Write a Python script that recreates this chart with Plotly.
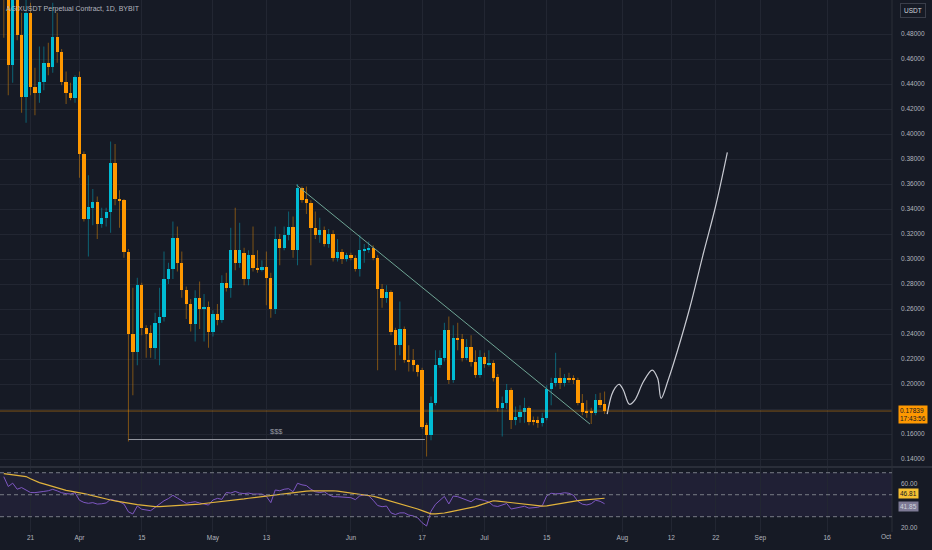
"""
plot.py - AGIXUSDT perpetual daily chart (Bybit) with RSI pane, rebuilt in plotly.
"""
import pandas as pd
import plotly.graph_objects as go

# ---- data (daily candles 2023-03-15 .. 2023-07-28) ----
first_day = "2023-03-15"
opens = [
    0.530, 0.520, 0.455, 0.515, 0.479, 0.430, 0.497, 0.438, 0.433, 0.442,
    0.457, 0.454, 0.478, 0.466, 0.442, 0.433, 0.429, 0.446, 0.384, 0.332,
    0.341, 0.346, 0.328, 0.333, 0.338, 0.377, 0.348, 0.347, 0.306, 0.240,
    0.226, 0.279, 0.245, 0.241, 0.229, 0.249, 0.254, 0.284, 0.292, 0.317,
    0.297, 0.275, 0.264, 0.248, 0.269, 0.260, 0.262, 0.242, 0.256, 0.251,
    0.281, 0.277, 0.307, 0.297, 0.305, 0.284, 0.303, 0.293, 0.291, 0.294,
    0.285, 0.260, 0.316, 0.309, 0.319, 0.326, 0.307, 0.357, 0.348, 0.345,
    0.325, 0.319, 0.323, 0.312, 0.320, 0.301, 0.306, 0.300, 0.303, 0.301,
    0.292, 0.307, 0.307, 0.309, 0.301, 0.276, 0.269, 0.274, 0.243, 0.231,
    0.244, 0.219, 0.219, 0.215, 0.211, 0.167, 0.159, 0.185, 0.215, 0.221,
    0.243, 0.203, 0.237, 0.236, 0.221, 0.230, 0.218, 0.207, 0.222, 0.216,
    0.217, 0.206, 0.181, 0.185, 0.195, 0.171, 0.174, 0.178, 0.181, 0.171,
    0.171, 0.169, 0.173, 0.196, 0.201, 0.205, 0.201, 0.205, 0.205, 0.203,
    0.185, 0.178, 0.1784, 0.177, 0.187, 0.184,
]
highs = [
    0.535, 0.530, 0.525, 0.525, 0.497, 0.510, 0.505, 0.453, 0.470, 0.470,
    0.473, 0.505, 0.497, 0.468, 0.450, 0.441, 0.447, 0.450, 0.386, 0.367,
    0.356, 0.350, 0.341, 0.341, 0.394, 0.392, 0.355, 0.348, 0.308, 0.277,
    0.285, 0.281, 0.247, 0.247, 0.257, 0.277, 0.306, 0.297, 0.330, 0.326,
    0.306, 0.278, 0.268, 0.275, 0.282, 0.272, 0.266, 0.259, 0.264, 0.287,
    0.289, 0.325, 0.341, 0.329, 0.309, 0.307, 0.326, 0.307, 0.299, 0.306,
    0.289, 0.326, 0.320, 0.326, 0.338, 0.334, 0.360, 0.358, 0.358, 0.347,
    0.338, 0.333, 0.326, 0.324, 0.323, 0.316, 0.308, 0.305, 0.305, 0.303,
    0.319, 0.312, 0.314, 0.311, 0.303, 0.280, 0.279, 0.275, 0.245, 0.266,
    0.246, 0.231, 0.228, 0.216, 0.213, 0.169, 0.190, 0.227, 0.227, 0.249,
    0.254, 0.247, 0.249, 0.240, 0.236, 0.239, 0.227, 0.227, 0.225, 0.227,
    0.219, 0.208, 0.190, 0.200, 0.197, 0.182, 0.183, 0.189, 0.182, 0.174,
    0.174, 0.177, 0.199, 0.205, 0.225, 0.213, 0.208, 0.209, 0.207, 0.205,
    0.192, 0.187, 0.181, 0.192, 0.193, 0.194,
]
lows = [
    0.477, 0.431, 0.441, 0.475, 0.417, 0.409, 0.431, 0.415, 0.425, 0.435,
    0.447, 0.449, 0.457, 0.439, 0.424, 0.427, 0.425, 0.365, 0.330, 0.302,
    0.327, 0.316, 0.325, 0.326, 0.321, 0.343, 0.325, 0.301, 0.154, 0.191,
    0.215, 0.239, 0.221, 0.221, 0.220, 0.215, 0.250, 0.280, 0.284, 0.290,
    0.269, 0.252, 0.242, 0.234, 0.244, 0.234, 0.229, 0.238, 0.247, 0.249,
    0.274, 0.269, 0.291, 0.293, 0.279, 0.279, 0.290, 0.289, 0.290, 0.263,
    0.253, 0.256, 0.295, 0.307, 0.315, 0.301, 0.295, 0.345, 0.336, 0.295,
    0.316, 0.313, 0.310, 0.309, 0.298, 0.298, 0.296, 0.298, 0.299, 0.290,
    0.286, 0.297, 0.305, 0.299, 0.211, 0.261, 0.265, 0.239, 0.211, 0.223,
    0.217, 0.210, 0.210, 0.206, 0.164, 0.142, 0.155, 0.183, 0.213, 0.218,
    0.200, 0.201, 0.227, 0.218, 0.219, 0.214, 0.205, 0.205, 0.213, 0.214,
    0.202, 0.178, 0.158, 0.180, 0.164, 0.167, 0.169, 0.169, 0.167, 0.167,
    0.165, 0.166, 0.171, 0.183, 0.198, 0.196, 0.198, 0.201, 0.200, 0.183,
    0.175, 0.173, 0.168, 0.175, 0.181, 0.176,
]
closes = [
    0.510, 0.455, 0.515, 0.479, 0.430, 0.497, 0.438, 0.433, 0.442, 0.457,
    0.454, 0.478, 0.466, 0.442, 0.433, 0.429, 0.446, 0.384, 0.332, 0.342,
    0.346, 0.328, 0.333, 0.338, 0.377, 0.348, 0.347, 0.306, 0.240, 0.226,
    0.279, 0.245, 0.240, 0.229, 0.249, 0.254, 0.284, 0.292, 0.317, 0.297,
    0.275, 0.264, 0.248, 0.269, 0.260, 0.262, 0.242, 0.256, 0.251, 0.281,
    0.277, 0.307, 0.297, 0.307, 0.284, 0.303, 0.293, 0.291, 0.294, 0.285,
    0.260, 0.316, 0.309, 0.319, 0.326, 0.307, 0.357, 0.347, 0.345, 0.325,
    0.319, 0.323, 0.312, 0.320, 0.301, 0.306, 0.300, 0.303, 0.301, 0.292,
    0.307, 0.3075, 0.309, 0.301, 0.276, 0.269, 0.274, 0.242, 0.231, 0.244,
    0.219, 0.218, 0.215, 0.210, 0.166, 0.159, 0.185, 0.215, 0.221, 0.243,
    0.203, 0.237, 0.236, 0.221, 0.230, 0.218, 0.207, 0.222, 0.216, 0.217,
    0.205, 0.181, 0.185, 0.195, 0.171, 0.174, 0.178, 0.181, 0.170, 0.170,
    0.169, 0.173, 0.196, 0.201, 0.205, 0.201, 0.205, 0.204, 0.203, 0.185,
    0.178, 0.1776, 0.1776, 0.187, 0.183, 0.17839,
]
rsi = [
    66.4, 57.5, 60.5, 55.0, 56.5, 54.3, 52.0, 51.9, 52.2, 53.0,
    53.6, 54.9, 53.5, 51.8, 51.0, 50.6, 51.8, 45.0, 43.0, 42.2,
    42.8, 41.5, 41.8, 42.5, 45.8, 44.6, 43.5, 41.5, 34.5, 32.5,
    39.7, 36.8, 35.8, 35.5, 38.5, 41.5, 44.5, 46.5, 49.5, 47.0,
    44.5, 42.2, 43.0, 43.6, 42.5, 41.5, 40.6, 45.2, 46.7, 45.8,
    52.0, 51.5, 53.0, 51.5, 51.0, 51.5, 50.6, 50.6, 50.6, 48.5,
    42.8, 54.3, 53.6, 55.0, 55.5, 52.7, 60.4, 59.0, 58.3, 55.0,
    52.7, 52.0, 52.7, 50.0, 48.2, 48.2, 47.8, 47.6, 47.3, 45.5,
    49.0, 49.7, 49.0, 45.0, 40.2, 39.1, 39.7, 33.5, 32.0, 33.5,
    33.5, 31.5, 30.7, 29.0, 24.5, 21.5, 35.0, 41.3, 44.5, 48.5,
    41.6, 48.8, 48.2, 46.5, 45.0, 43.6, 46.5, 45.8, 44.8, 43.3,
    40.0, 39.3, 40.5, 42.0, 37.0, 38.0, 39.0, 39.5, 37.8, 38.0,
    38.6, 40.0, 49.0, 51.3, 50.8, 51.0, 51.8, 51.3, 49.5, 44.0,
    41.4, 40.7, 41.8, 45.0, 44.0, 41.8,
]
rsi_ma = [
    69.2, 68.7, 68.3, 67.9, 67.5, 66.5, 64.5, 62.6, 61.0, 59.8,
    58.5, 57.2, 56.0, 54.8, 54.0, 53.2, 52.6, 52.0, 51.0, 50.1,
    49.0, 48.1, 47.1, 46.1, 45.2, 44.4, 43.6, 42.9, 42.2, 41.6,
    41.0, 40.5, 39.9, 39.5, 39.1, 39.2, 39.4, 39.6, 39.8, 40.0,
    40.2, 40.4, 40.7, 41.0, 41.5, 42.0, 42.4, 42.8, 43.2, 43.6,
    44.1, 44.6, 45.1, 45.7, 46.2, 46.8, 47.3, 47.9, 48.5, 49.1,
    49.7, 50.2, 50.7, 51.3, 51.7, 52.1, 52.5, 52.9, 53.2, 53.5,
    53.6, 53.7, 53.7, 53.7, 53.6, 53.2, 52.7, 52.1, 51.5, 50.9,
    50.3, 49.7, 49.3, 48.6, 47.6, 46.5, 45.4, 44.2, 43.0, 41.8,
    40.6, 39.5, 38.3, 37.0, 35.5, 34.0, 32.6, 32.5, 32.8, 33.4,
    34.2, 35.0, 35.8, 36.6, 37.4, 38.3, 39.2, 40.5, 41.8, 43.2,
    44.5, 44.2, 43.7, 43.2, 42.6, 42.1, 41.6, 41.2, 40.7, 40.3,
    39.9, 39.6, 39.8, 40.5, 41.3, 42.0, 42.8, 43.6, 44.4, 44.7,
    45.0, 45.3, 45.7, 46.0, 46.4, 46.81,
]
last_price = 0.17839
last_rsi = 41.85

# drawings on the chart
trend_dates = ["2023-05-19 18:00", "2023-07-24 17:00"]
trend_prices = [0.3592, 0.168]
liq_dates = ["2023-04-12", "2023-06-17 15:00"]
liq_price = 0.1556
liq_label_date = "2023-05-15 07:00"
liq_label_price = 0.1622
path_dates = [
    "2023-07-28 14:00", "2023-07-29 14:00", "2023-07-30 08:00", "2023-07-31 07:00",
    "2023-08-01 05:00", "2023-08-02 14:00", "2023-08-03 19:00", "2023-08-05 17:00",
    "2023-08-07 17:00", "2023-08-08 22:00", "2023-08-09 17:00", "2023-08-11 07:00",
    "2023-08-13 05:00", "2023-08-16 05:00", "2023-08-19 05:00", "2023-08-21 22:00",
    "2023-08-24 14:00",
]
path_prices = [
    0.176, 0.1912, 0.1968, 0.1998, 0.1952, 0.1838, 0.1872, 0.2018,
    0.2112, 0.2046, 0.1886, 0.2032, 0.2246, 0.2618, 0.3046, 0.3418, 0.3854,
]

tick_dates = ["2023-03-21", "2023-04-01", "2023-04-15", "2023-05-01", "2023-05-13",
              "2023-06-01", "2023-06-17", "2023-07-01", "2023-07-15", "2023-08-01",
              "2023-08-12", "2023-08-22", "2023-09-01", "2023-09-16"]
tick_text = ["21", "Apr", "15", "May", "13", "Jun", "17", "Jul", "15", "Aug",
             "12", "22", "Sep", "16"]
price_ticks = [0.14, 0.16, 0.18, 0.20, 0.22, 0.24, 0.26, 0.28, 0.30, 0.32,
               0.34, 0.36, 0.38, 0.40, 0.42, 0.44, 0.46, 0.48]

BG = "#161a25"
GRID = "#222632"
TXT = "#b2b5be"
UP = "#00bcd4"
DOWN = "#ff9800"
FONT = "Liberation Sans"

dates = pd.date_range(first_day, periods=len(opens), freq="D")
is_up = [c >= o for o, c in zip(opens, closes)]

fig = go.Figure()

# wicks (dimmer than the bodies, like TradingView)
for flag, col in [(True, "rgba(0,188,212,0.45)"), (False, "rgba(255,152,0,0.45)")]:
    wx, wy = [], []
    for d, h, l, u in zip(dates, highs, lows, is_up):
        if u == flag:
            wx += [d, d, None]
            wy += [l, h, None]
    fig.add_trace(go.Scatter(x=wx, y=wy, mode="lines", line=dict(color=col, width=1),
                             hoverinfo="skip", showlegend=False, xaxis="x", yaxis="y"))

# bodies
fig.add_trace(go.Bar(
    x=dates,
    base=[min(o, c) for o, c in zip(opens, closes)],
    y=[max(abs(c - o), 0.0009) for o, c in zip(opens, closes)],
    width=0.74 * 86400000,
    marker=dict(color=[UP if u else DOWN for u in is_up], line=dict(width=0)),
    showlegend=False, xaxis="x", yaxis="y",
))

# projected path (hand drawn)
fig.add_trace(go.Scatter(x=path_dates, y=path_prices, mode="lines",
                         line=dict(color="#c8cad2", width=1.2, shape="spline", smoothing=1.0),
                         showlegend=False, xaxis="x", yaxis="y"))

# RSI pane
fig.add_trace(go.Scatter(x=dates, y=rsi, mode="lines", line=dict(color="#7e57c2", width=1),
                         showlegend=False, xaxis="x2", yaxis="y2"))
fig.add_trace(go.Scatter(x=dates, y=rsi_ma, mode="lines", line=dict(color="#e1b33c", width=1.2),
                         showlegend=False, xaxis="x2", yaxis="y2"))

x_range = ["2023-03-14 03:30", "2023-09-30 14:00"]

shapes = [
    # rsi band
    dict(type="rect", xref="x2 domain", yref="y2", x0=0, x1=1, y0=30, y1=70,
         fillcolor="rgba(126,87,194,0.10)", line_width=0, layer="below"),
    # trend line
    dict(type="line", xref="x", yref="y", x0=trend_dates[0], x1=trend_dates[1],
         y0=trend_prices[0], y1=trend_prices[1], line=dict(color="#6fa595", width=1)),
    # $$$ line
    dict(type="line", xref="x", yref="y", x0=liq_dates[0], x1=liq_dates[1],
         y0=liq_price, y1=liq_price, line=dict(color="#9598a1", width=1)),
    # last price line
    dict(type="line", xref="x domain", yref="y", x0=0, x1=1, y0=last_price, y1=last_price,
         line=dict(color="rgba(255,152,0,0.45)", width=1)),
    # pane separators
    dict(type="line", xref="paper", yref="paper", x0=0, x1=1.05, y0=0.1222, y1=0.1222,
         line=dict(color="#2a2e39", width=2)),
    dict(type="line", xref="paper", yref="paper", x0=1, x1=1, y0=0, y1=1,
         line=dict(color="#2a2e39", width=1)),
]
for lvl in [70, 50, 30]:
    shapes.append(dict(type="line", xref="x2 domain", yref="y2", x0=0, x1=1, y0=lvl, y1=lvl,
                       line=dict(color="#787b86", width=1, dash="4px,3px")))

annotations = [
    dict(text="AGIXUSDT Perpetual Contract, 1D, BYBIT", xref="paper", yref="paper",
         x=0.004, y=0.995, xanchor="left", yanchor="top", showarrow=False,
         font=dict(family=FONT, size=7, color=TXT)),
    dict(text="$$$", xref="x", yref="y", x=liq_label_date, y=liq_label_price,
         showarrow=False, font=dict(family=FONT, size=7.5, color="#9598a1")),
    dict(text="USDT", xref="paper", yref="paper", x=1, y=0.995, xanchor="left",
         yanchor="top", xshift=8, showarrow=False, bgcolor=BG, bordercolor="#3a3e4a",
         borderwidth=1, borderpad=3, font=dict(family=FONT, size=6.5, color="#d1d4dc")),
    dict(text=f"{last_price:.5f}<br>17:43:56", xref="paper", yref="y", x=1, y=last_price,
         xanchor="left", yanchor="top", xshift=6, yshift=6, showarrow=False,
         bgcolor=DOWN, borderpad=1, align="left",
         font=dict(family=FONT, size=6.5, color="#131722")),
    dict(text=f"{rsi_ma[-1]:.2f}", xref="paper", yref="y2", x=1, y=rsi_ma[-1],
         xanchor="left", xshift=6, yshift=5, showarrow=False, bgcolor="#f5c033",
         borderpad=1, font=dict(family=FONT, size=6.5, color="#131722")),
    dict(text=f"{last_rsi:.2f}", xref="paper", yref="y2", x=1, y=last_rsi,
         xanchor="left", xshift=6, yshift=-3, showarrow=False, bgcolor="#7d7a95",
         borderpad=1, font=dict(family=FONT, size=6.5, color="#d1d4dc")),
    # Oct 1 falls just past the right edge of the plot, so place it by hand
    dict(text="Oct", xref="paper", yref="paper", x=1, y=0, xshift=1, yanchor="top",
         yshift=1, showarrow=False, font=dict(family=FONT, size=6.5, color=TXT)),
]

axis_x = dict(type="date", range=x_range, tickvals=tick_dates, ticktext=tick_text,
              showgrid=True, gridcolor=GRID, gridwidth=1, zeroline=False,
              showline=False, tickfont=dict(family=FONT, size=6.5, color=TXT))

fig.update_layout(
    width=932, height=550,
    margin=dict(l=0, r=40, t=0, b=18),
    paper_bgcolor=BG, plot_bgcolor=BG,
    barmode="overlay", bargap=0,
    showlegend=False,
    xaxis=dict(axis_x, anchor="y", showticklabels=False, domain=[0, 1]),
    xaxis2=dict(axis_x, anchor="y2", matches="x", domain=[0, 1]),
    yaxis=dict(domain=[0.124, 1], range=[0.1344, 0.5072], side="right",
               tickvals=price_ticks, tickformat=".5f", showgrid=True, gridcolor=GRID,
               zeroline=False, ticklabelstandoff=8,
               tickfont=dict(family=FONT, size=6.5, color=TXT)),
    yaxis2=dict(domain=[0, 0.1203], range=[16.1, 74.3], side="right",
                tickvals=[20, 60], tickformat=".2f", showgrid=False, zeroline=False,
                ticklabelstandoff=8, tickfont=dict(family=FONT, size=6.5, color=TXT)),
    shapes=shapes,
    annotations=annotations,
)

# page has a default 8px body margin; drop it so the chart sits flush like the screenshot
fig.write_html("out.html", config={"displayModeBar": False},
               post_script="document.body.style.margin='0';"
                           "document.body.style.background='#161a25';")
